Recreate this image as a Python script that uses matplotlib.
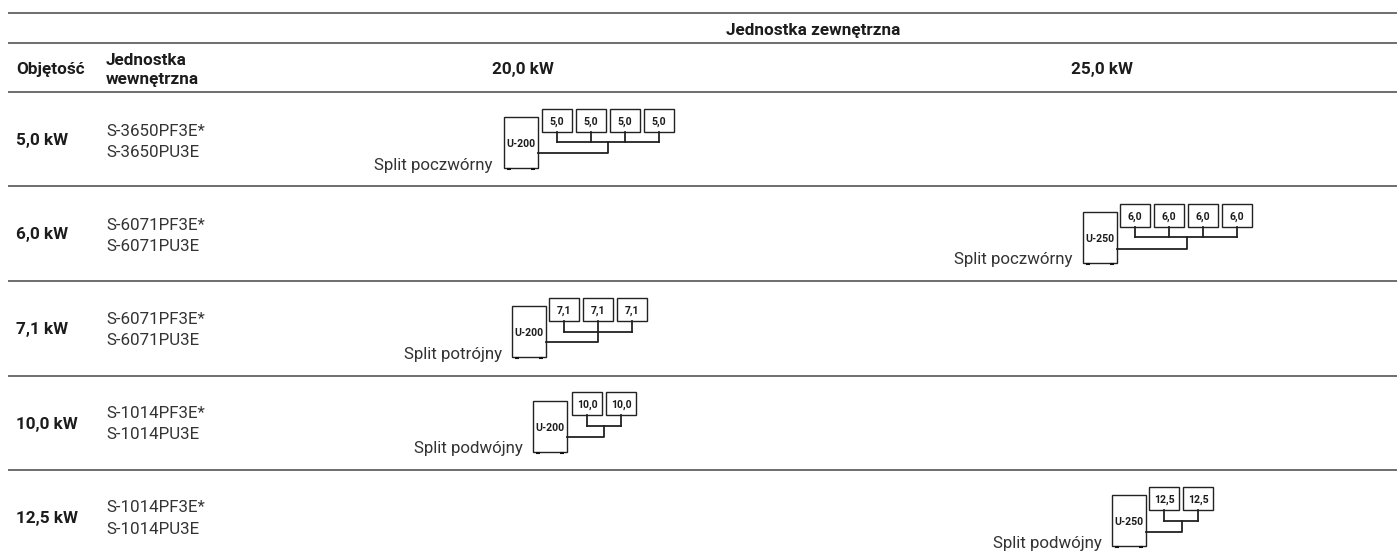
import matplotlib
matplotlib.use("Agg")
import matplotlib.pyplot as plt
from matplotlib.patches import Rectangle

FONT = "Roboto"
DARK = "#1c1c1c"
TEXT = "#333333"
RULE = "#555555"
LINE = "#222222"

# ---- content ----
capacities = ["5,0 kW", "6,0 kW", "7,1 kW", "10,0 kW", "12,5 kW"]
indoor_units = [
    ["S-3650PF3E*", "S-3650PU3E"],
    ["S-6071PF3E*", "S-6071PU3E"],
    ["S-6071PF3E*", "S-6071PU3E"],
    ["S-1014PF3E*", "S-1014PU3E"],
    ["S-1014PF3E*", "S-1014PU3E"],
]
split_labels = ["Split poczwórny", "Split poczwórny", "Split potrójny", "Split podwójny", "Split podwójny"]
outdoor_models = ["U-200", "U-250", "U-200", "U-200", "U-250"]
indoor_values = ["5,0", "6,0", "7,1", "10,0", "12,5"]
indoor_counts = [4, 4, 3, 2, 2]
header_group = "Jednostka zewnętrzna"
header_cols = ["Objętość", "Jednostka\nwewnętrzna", "20,0 kW", "25,0 kW"]

# ---- layout (pixels) ----
rule_y = [12.5, 43, 92, 186, 281, 376, 470]
row_cap_y = [140, 234, 329, 424, 518]
row_name_y = [(131, 152), (225, 246), (318.5, 340), (413, 434), (507, 528.5)]
out_x = [504, 1083, 512, 533, 1112]
out_y = [117, 212, 306, 401, 495]
in_x = [542, 1120, 549, 572, 1149]
in_y = [109, 204, 298, 392, 487]
bus_y = [142, 237, 332, 426, 521]
trunk_y = [153, 249, 342, 437, 532]
trunk_x = [608, 1187, 598, 604, 1182]
label_x = [493, 1073, 502, 523, 1102]
label_y = [165, 259, 354, 448, 543]
OW, OH, IW, IH, PITCH = 34, 51, 30, 23, 34
TEXT_DY = 0.8

fig = plt.figure(figsize=(13.97, 5.53), dpi=100)
ax = fig.add_axes([0, 0, 1, 1])
ax.set_xlim(0, 1397)
ax.set_ylim(553, 0)
ax.axis("off")

for y in rule_y:
    ax.plot([8, 1397], [y, y], color=RULE, lw=1.2, solid_capstyle="butt")

def label(x, y, s, size=12.2, weight="normal", ha="left", color=TEXT):
    ax.text(x, y + TEXT_DY, s, fontsize=size, fontweight=weight, ha=ha, va="center",
            color=color, family=FONT)

BOLD = 12.3
label(813, 30, header_group, BOLD, "bold", "center", DARK)
label(16, 69, header_cols[0], BOLD, "bold", color=DARK)
a, b = header_cols[1].split("\n")
label(106, 60, a, BOLD, "bold", color=DARK)
label(106, 79, b, BOLD, "bold", color=DARK)
label(523, 69, header_cols[2], BOLD, "bold", "center", DARK)
label(1102, 69, header_cols[3], BOLD, "bold", "center", DARK)

for i in range(5):
    label(16, row_cap_y[i], capacities[i], BOLD, "bold", color=DARK)
    for yy, name in zip(row_name_y[i], indoor_units[i]):
        label(106, yy, name)
    label(label_x[i], label_y[i], split_labels[i], ha="right")

    ox, oy = out_x[i], out_y[i]
    ax.add_patch(Rectangle((ox, oy), OW, OH, fc="white", ec=LINE, lw=1.0))
    for fx in (ox + 3, ox + OW - 7):
        ax.plot([fx, fx + 4], [oy + OH + 0.8] * 2, color="#111111", lw=1.5, solid_capstyle="butt")
    label(ox + OW / 2 + 0.3, oy + OH / 2 + 1, outdoor_models[i], 7.6, "bold", "center", DARK)

    centres = []
    for k in range(indoor_counts[i]):
        x0 = in_x[i] + k * PITCH
        cx = x0 + IW / 2
        centres.append(cx)
        ax.add_patch(Rectangle((x0, in_y[i]), IW, IH, fc="white", ec=LINE, lw=1.0))
        label(cx, in_y[i] + IH / 2 + 0.5, indoor_values[i], 7.6, "bold", "center", DARK)
        ax.plot([cx, cx], [in_y[i] + IH, bus_y[i]], color=LINE, lw=1.3)
    ax.plot([centres[0], centres[-1]], [bus_y[i]] * 2, color=LINE, lw=1.3, solid_capstyle="projecting")
    ax.plot([ox + OW, trunk_x[i], trunk_x[i]], [trunk_y[i], trunk_y[i], bus_y[i]], color=LINE, lw=1.3)

fig.savefig("out.png", dpi=100)
